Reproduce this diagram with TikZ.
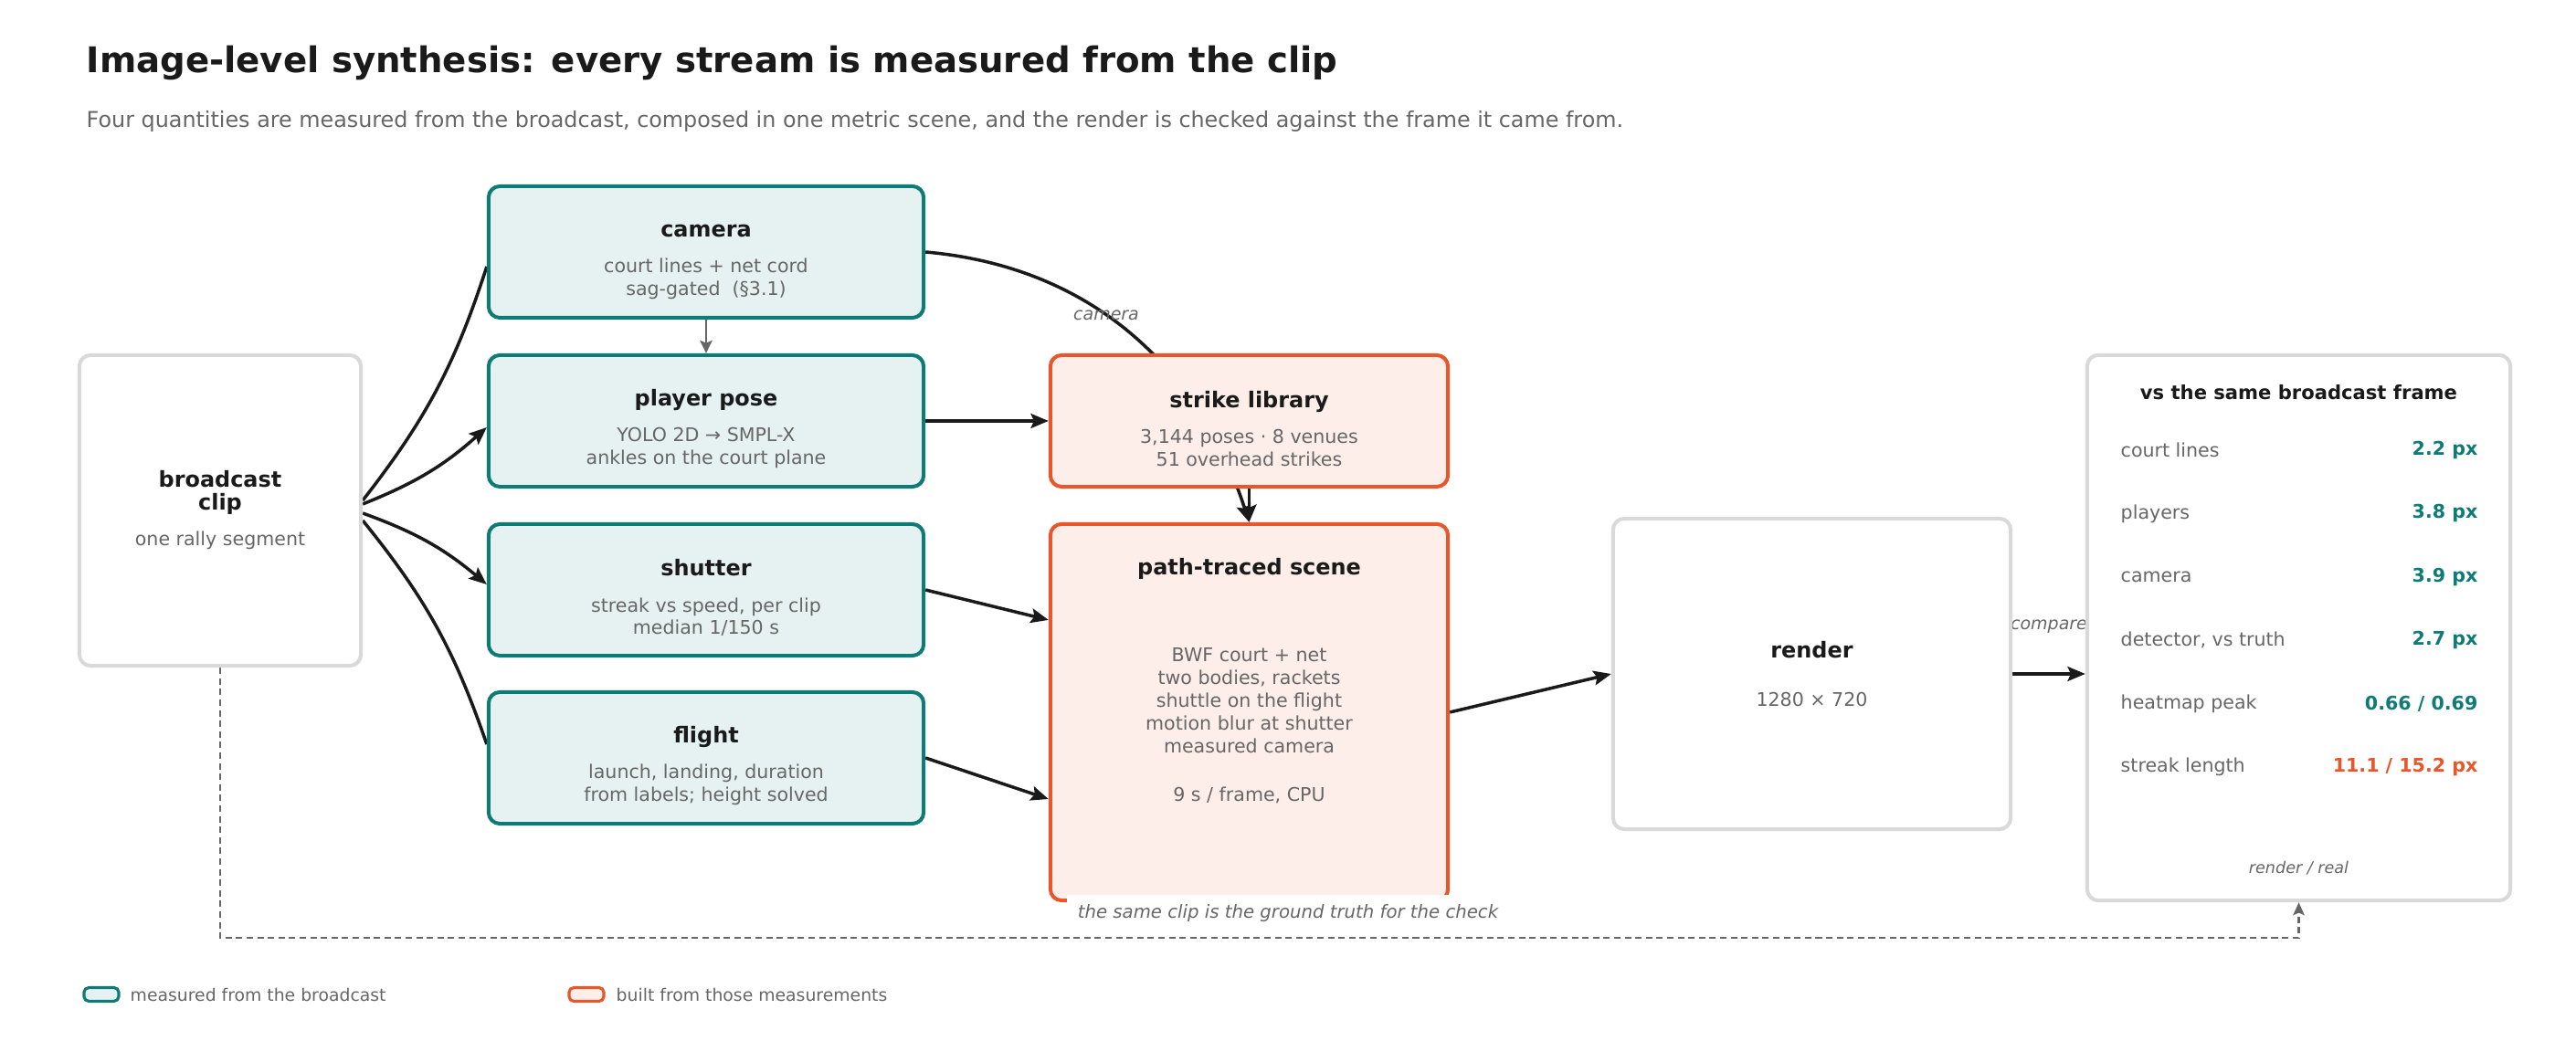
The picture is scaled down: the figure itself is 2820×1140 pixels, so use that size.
\documentclass[tikz,border=0pt]{standalone}
\usepackage{fontspec}
\setmainfont{DejaVu Sans}
\usetikzlibrary{arrows.meta,backgrounds,positioning}

\definecolor{tealline}{HTML}{0F7B76}
\definecolor{tealfill}{HTML}{E6F2F1}
\definecolor{orangeline}{HTML}{E8572C}
\definecolor{orangefill}{HTML}{FDEEE9}
\definecolor{grayline}{HTML}{D9D9D9}
\definecolor{textgray}{HTML}{666666}
\definecolor{ink}{HTML}{1A1A1A}

\newcommand{\titlefont}{\fontsize{11}{13}\selectfont\bfseries}
\newcommand{\subtitlefont}{\fontsize{6.78}{8.5}\selectfont}
\newcommand{\headfont}{\fontsize{6.8}{7.4}\selectfont\bfseries}
\newcommand{\subfont}{\fontsize{5.85}{7.1}\selectfont}
\newcommand{\notefont}{\fontsize{5.4}{6.5}\selectfont}
\newcommand{\boxtitle}[1]{{\color{ink}\headfont\rule{0pt}{10.2pt}#1}}

\begin{document}
\begin{tikzpicture}[x=0.01cm,y=0.01cm]
	\tikzstyle{measured} = [rectangle, rounded corners=3.5pt, draw=tealline, fill=tealfill, line width=1.15pt, minimum width=4.76cm, minimum height=1.44cm, align=center, text=textgray, font=\subfont]
	\tikzstyle{built} = [rectangle, rounded corners=3.5pt, draw=orangeline, fill=orangefill, line width=1.15pt, minimum width=4.35cm, minimum height=1.44cm, align=center, text=textgray, font=\subfont]
	\tikzstyle{plain} = [rectangle, rounded corners=3.5pt, draw=grayline, fill=white, line width=1.15pt, align=center, text=textgray, font=\subfont]
	\tikzstyle{arrow} = [line width=1pt, draw=ink, -{Stealth[length=5.5pt,width=4.5pt,inset=1pt]}]
	\tikzstyle{link} = [line width=1pt, draw=ink]
	\tikzstyle{grayarrow} = [line width=0.8pt, draw=textgray, -{Stealth[length=4pt,width=3.8pt,inset=0.8pt]}]
	\tikzstyle{feedback} = [line width=0.7pt, draw=textgray, dash pattern=on 2pt off 1.3pt, -{Stealth[length=4pt,width=3.5pt,inset=0.8pt]}]
	\tikzstyle{lbl} = [font=\notefont\itshape, text=textgray]
	
	\useasboundingbox (0,0) rectangle (2820,1140);
	
	\node (title) [anchor=base west, inner sep=0pt, font=\titlefont, text=ink] at (94,1060) {Image-level synthesis: every stream is measured from the clip};
	\node (subtitle) [anchor=base west, inner sep=0pt, font=\subtitlefont, text=textgray] at (94,1000) {Four quantities are measured from the broadcast, composed in one metric scene, and the render is checked against the frame it came from.};
	
	% the clip and what is measured from it
	\node (clip) [plain, minimum width=3.08cm, minimum height=3.4cm] at (241,581) {{\color{ink}\headfont broadcast}\\{\color{ink}\headfont clip}\\[4pt]one rally segment};
	\node (camera) [measured] at (773,864) {\boxtitle{camera}\\[4pt]court lines + net cord\\sag-gated\ \ (§3.1)};
	\node (pose) [measured] at (773,679) {\boxtitle{player pose}\\[4pt]YOLO 2D → SMPL-X\\ankles on the court plane};
	\node (shutter) [measured] at (773,494) {\boxtitle{shutter}\\[4pt]streak vs speed, per clip\\median 1/150 s};
	\node (flight) [measured] at (773,310) {\boxtitle{flight}\\[4pt]launch, landing, duration\\from labels; height solved};
	
	% what is built from it
	\node (lib) [built] at (1367.5,679) {\boxtitle{strike library}\\[4pt]3,144 poses · 8 venues\\51 overhead strikes};
	\node (scene) [built, minimum height=4.12cm] at (1367.5,360) {};
	\node (scenetitle) [font=\headfont, text=ink] at (1367.5,517) {path-traced scene};
	\node (scenebody) [align=center, font=\subfont, text=textgray] at (1367.5,345) {BWF court + net\\two bodies, rackets\\shuttle on the flight\\motion blur at shutter\\measured camera\\[8pt]9 s / frame, CPU};
	\node (render) [plain, minimum width=4.35cm, minimum height=3.4cm] at (1983.5,402) {{\color{ink}\headfont render}\\[8pt]1280 × 720};
	
	% the check
	\node (panel) [plain, minimum width=4.63cm, minimum height=5.97cm] at (2516.5,452.5) {};
	\node (paneltitle) [font={\fontsize{6}{7}\selectfont\bfseries}, text=ink] at (2516.5,710) {vs the same broadcast frame};
	\foreach \what/\val/\col [count=\i from 0] in {court lines/2.2 px/tealline, players/3.8 px/tealline, camera/3.9 px/tealline, {detector, vs truth}/2.7 px/tealline, heatmap peak/{0.66 / 0.69}/tealline, streak length/{11.1 / 15.2 px}/orangeline}
	{
		\node (row\i) [anchor=west, inner xsep=0pt, font=\subfont, text=textgray] at (2321,{647-69.4*\i}) {\what};
		\node (val\i) [anchor=east, inner xsep=0pt, font={\subfont\bfseries}, text=\col] at (2713,{647-69.4*\i}) {\val};
	}
	\node (panelnote) [font={\fontsize{5}{6}\selectfont\itshape}, text=textgray] at (2516.5,189) {render / real};
	
	\begin{pgfonlayer}{background}
		\draw [link] ([yshift=0.11cm]clip.east) to[bend right=10] ([yshift=-0.16cm]camera.west);
		\draw [arrow] ([yshift=0.07cm]clip.east) to[bend right=10] ([yshift=-0.07cm]pose.west);
		\draw [arrow] ([yshift=-0.03cm]clip.east) to[bend left=10] ([yshift=0.06cm]shutter.west);
		\draw [link] ([yshift=-0.11cm]clip.east) to[bend left=10] ([yshift=0.15cm]flight.west);
		\draw [grayarrow] (camera) -- (pose);
		\draw [arrow] (pose) -- (lib);
		\draw [arrow] (camera.east) to[out=-5, in=108] node[lbl, pos=0.43] {camera} (scene.north);
		\draw [arrow] (lib) -- (scene);
		\draw [arrow] (shutter.east) -- ([yshift=1.01cm]scene.west);
		\draw [arrow] (flight.east) -- ([yshift=-0.95cm]scene.west);
		\draw [arrow] (scene.east) -- (render.west);
		\draw [arrow] (render.east) -- node[lbl, above=0.31cm] {compare} (render.east -| panel.west);
		\draw [feedback] (clip.south) -- ++(0,-296) -| (panel.south);
	\end{pgfonlayer}
	\node (truthnote) [lbl, font={\fontsize{5.6}{6.5}\selectfont\itshape}, fill=white, inner xsep=0.12cm, inner ysep=0.1cm] at (1410,140) {the same clip is the ground truth for the check};
	
	% legend
	\node (legmeasured) [measured, minimum width=0.38cm, minimum height=0.15cm, inner sep=0pt, rounded corners=1.5pt, line width=0.9pt] at (111,51) {};
	\node (legmeasuredtext) [anchor=west, inner xsep=0pt, font={\fontsize{5.35}{6.5}\selectfont}, text=textgray] at (142,51) {measured from the broadcast};
	\node (legbuilt) [built, minimum width=0.38cm, minimum height=0.15cm, inner sep=0pt, rounded corners=1.5pt, line width=0.9pt] at (642,51) {};
	\node (legbuilttext) [anchor=west, inner xsep=0pt, font={\fontsize{5.35}{6.5}\selectfont}, text=textgray] at (674,51) {built from those measurements};
\end{tikzpicture}
\end{document}
